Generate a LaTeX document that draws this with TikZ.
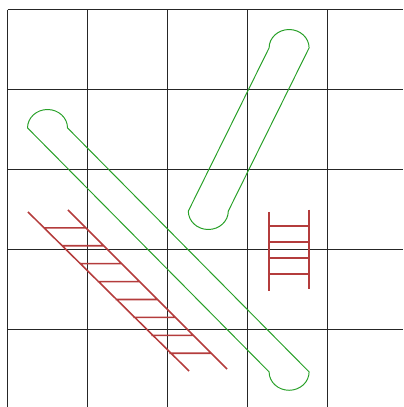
\documentclass[tikz,border=0pt]{standalone}
\usetikzlibrary{positioning}

\definecolor{capsgreen}{RGB}{40,160,40}
\definecolor{laddred}{RGB}{180,60,60}

\begin{document}
\begin{tikzpicture}[x=2cm, y=-2cm, gridline/.style={draw=black!85, line width=1pt}, caps/.style={draw=capsgreen, line width=0.7pt}, ladder/.style={draw=laddred, line width=1.1pt}]
		\useasboundingbox (-0.094,-0.119) rectangle (4.944,4.969);

		\foreach \i in {0,...,4} {
			\draw[gridline] (\i,0) -- (\i,4.969);
			\draw[gridline] (0,\i) -- (4.944,\i);
		}

		% long capsule
		\coordinate (LT) at (0.25,1.48);
		\coordinate (LB) at (3.77,4.53);
		\draw[caps] (LT) arc[start angle=180, end angle=360, x radius=0.25, y radius=0.23] -- (LB) arc[start angle=0, end angle=180, x radius=0.25, y radius=0.23] -- cycle;

		% short capsule
		\coordinate (ST) at (3.27,0.48);
		\coordinate (SB) at (2.76,2.52);
		\draw[caps] (ST) arc[start angle=180, end angle=360, x radius=0.25, y radius=0.23] -- (SB) arc[start angle=0, end angle=180, x radius=0.25, y radius=0.23] -- cycle;

		% upright ladder
		\coordinate (UL1) at (3.27,2.53);
		\coordinate (UL2) at (3.27,3.52);
		\coordinate (UR1) at (3.77,2.50);
		\coordinate (UR2) at (3.77,3.49);
		\draw[ladder] (UL1) -- (UL2) (UR1) -- (UR2)
			\foreach \k in {0,...,3} {(3.27,{2.706+0.2*\k}) -- (3.77,{2.706+0.2*\k})};

		% slanted ladder
		\coordinate (DL1) at (0.256,2.531);
		\coordinate (DL2) at (2.269,4.519);
		\coordinate (DR1) at (0.756,2.506);
		\coordinate (DR2) at (2.744,4.494);
		\draw[ladder] (DL1) -- (DL2) (DR1) -- (DR2)
			\foreach \k in {0,...,7} {({0.454+0.224*\k},{2.729+0.224*\k}) -- ({0.979+0.224*\k},{2.729+0.224*\k})};
	\end{tikzpicture}
\end{document}
